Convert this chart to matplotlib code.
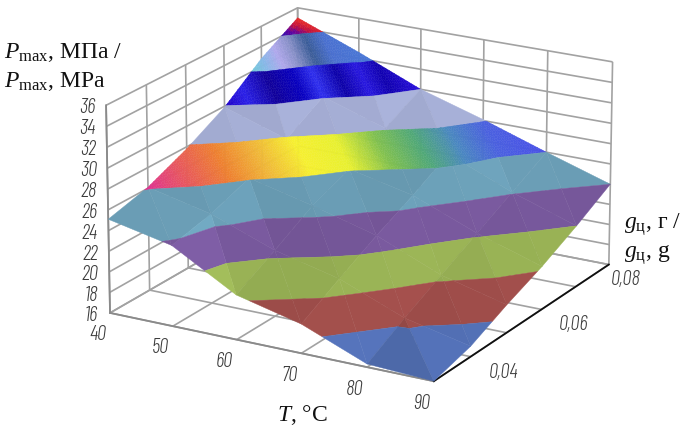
import numpy as np, matplotlib
matplotlib.use('Agg')
import matplotlib.pyplot as plt
from matplotlib.colors import LinearSegmentedColormap, to_rgb
from mpl_toolkits.mplot3d.art3d import Poly3DCollection

plt.rcParams.update({'mathtext.fontset':'custom','mathtext.rm':'Liberation Serif',
                     'mathtext.it':'Liberation Serif:italic','font.family':['Liberation Serif','DejaVu Serif']})

# data
temperature = [40, 50, 60, 70, 80, 90]
fuel_dose = [0.03, 0.04, 0.05, 0.06, 0.07, 0.08]
pressure = [
    [25.1, 26.1, 27.8, 29.9, 32.8, 35.0],
    [23.8, 24.7, 26.1, 27.9, 30.1, 32.6],
    [20.3, 22.4, 24.6, 26.1, 28.1, 30.0],
    [18.8, 20.9, 22.9, 24.7, 26.7, 28.1],
    [16.3, 18.4, 20.3, 22.2, 24.1, 26.0],
    [16.0, 17.0, 18.7, 20.2, 22.0, 24.0],
]
z_ticks = [16, 18, 20, 22, 24, 26, 28, 30, 32, 34, 36]
t_labels = ['40', '50', '60', '70', '80', '90']
g_labels = ['', '0,04', '', '0,06', '', '0,08']

flat_bands = {16: '#5472B8', 18: '#A04E4B', 20: '#97B054', 22: '#76579A', 24: '#6A9DB5', 28: '#A5AED5'}
rainbow = LinearSegmentedColormap.from_list('r', [(0, '#e0358f'), (.1, '#e85a5a'), (.2, '#ee8030'), (.3, '#f0b838'),
    (.4, '#f6f030'), (.5, '#e8f030'), (.6, '#80c050'), (.69, '#50a878'), (.78, '#4a88c0'), (.88, '#4a60e0'), (1, '#4a50e8')])
stripes = LinearSegmentedColormap.from_list('s', [(0, '#2000c8'), (.12, '#2a20e8'), (.26, '#10009a'), (.4, '#0800c0'),
    (.5, '#3030f0'), (.62, '#0c00a8'), (.73, '#2818e0'), (.84, '#1000b0'), (1, '#2a10e0')])
haze = LinearSegmentedColormap.from_list('h', [(0, '#70d0d8'), (.14, '#88b8e8'), (.27, '#b0a8ec'), (.4, '#8890c8'),
    (.54, '#3a5c98'), (.68, '#4a70d0'), (1, '#4878d8')])
crown = LinearSegmentedColormap.from_list('c', [(0, '#3010b0'), (.3, '#6000a0'), (.6, '#c01040'), (1, '#f03020')])

def stripe_pos(T, g):
    return (T - 40) / 10 + (g - .03) / .008

def colour(lo, T, g, z):
    s = stripe_pos(T, g)
    if lo == 26: return rainbow((s - 1.25) / 9.05)[:3]
    if lo == 30: return stripes((s - 3.75) / 4.5)[:3]
    if lo == 32: return haze((s - 4.6) / 2.95)[:3]
    if lo == 34: return crown(min(1, (z - 34) / 1.0 + (T - 40) / 5))[:3]
    return to_rgb(flat_bands[lo])

def clip(poly, lo, hi):
    for sign, lim in ((1, lo), (-1, hi)):
        out = []
        for a, b in zip(poly, poly[1:] + poly[:1]):
            da, db = sign * (a[2] - lim), sign * (b[2] - lim)
            if da >= 0: out.append(a)
            if da * db < 0:
                out.append(tuple(np.add(a, np.multiply(np.subtract(b, a), da / (da - db)))))
        poly = out
        if not poly: return []
    return poly

def subdivide(tri, n):
    a, b, c = map(np.array, tri)
    P = lambda i, j: tuple(a + (b - a) * i / n + (c - a) * j / n)
    res = []
    for i in range(n):
        for j in range(n - i):
            res.append([P(i, j), P(i + 1, j), P(i, j + 1)])
            if i + j < n - 1: res.append([P(i + 1, j), P(i + 1, j + 1), P(i, j + 1)])
    return res

polys, cols = [], []
Z = np.array(pressure)
for i in range(5):
    for j in range(5):
        v = lambda a, b: (temperature[a], fuel_dose[b], Z[a, b])
        for tri in ([v(i, j), v(i + 1, j), v(i, j + 1)], [v(i + 1, j), v(i + 1, j + 1), v(i, j + 1)]):
            p = np.array(tri)
            A = np.c_[(p[:, 0] - 65) / 10, (p[:, 1] - .055) / .01, np.ones(3)]
            zT, zg, _ = np.linalg.solve(A, p[:, 2])
            shade = np.clip(1 - .045 * (zT + 2) - .03 * (zg - 2), .86, 1.08)
            for lo in z_ticks[:-1]:
                hi = lo + 2
                if p[:, 2].max() <= lo or p[:, 2].min() >= hi: continue
                parts = [tri] if lo in flat_bands else subdivide(tri, 14)
                for part in parts:
                    q = clip(part, lo, hi)
                    if len(q) < 3: continue
                    c = np.mean(q, axis=0)
                    rgb = np.clip(np.array(colour(lo, c[0], c[1], c[2])) * (shade if lo in flat_bands else 1), 0, 1)
                    polys.append(q); cols.append(rgb)

fig = plt.figure(figsize=(6.85, 4.39), dpi=100)
ax = fig.add_axes([.1187, -.0686, .8003, 1.2487], projection='3d')
ax.patch.set_alpha(0)
ax.set_xlim(40, 90, view_margin=0); ax.set_ylim(.03, .08, view_margin=0); ax.set_zlim(16, 36, view_margin=0)
ax.view_init(19.46, -60.23)
ax.set_proj_type('persp', focal_length=1.6026)
ax.set_box_aspect((1.6905, 1.6969, 1.0))
ax.add_collection3d(Poly3DCollection(polys, facecolors=cols, edgecolors=cols, linewidths=.3))

tick_font = dict(family=['Barlow Condensed', 'Archivo Narrow', 'DejaVu Sans'], style='italic', weight=300,
                 fontsize=15, color='#3c3c3c', va='center')
ax.set_xticks(temperature, t_labels, **tick_font)
ax.set_yticks(fuel_dose, g_labels, **tick_font)
ax.set_zticks(z_ticks, [str(z) for z in z_ticks], **tick_font)
for lab, ha in zip(ax.get_yticklabels(), ['center', 'left', 'center', 'left', 'center', 'center']):
    lab.set_ha(ha)
for axis, col in ((ax.xaxis, '#8a8a8a'), (ax.yaxis, '#101010'), (ax.zaxis, '#8a8a8a')):
    axis.set_pane_color((1, 1, 1, 0))
    axis.pane.set_edgecolor((1, 1, 1, 0))
    axis.line.set_color(col)
    axis.line.set_linewidth(1.3)
    axis._axinfo['tick'].update(inward_factor=0, outward_factor=0)
    axis._axinfo['grid'].update(color='#a2a2a2', linewidth=1.2, linestyle='-')
ax.zaxis.set_ticks_position('lower')
ax.tick_params(axis='x', pad=5); ax.tick_params(axis='y', pad=3); ax.tick_params(axis='z', pad=-0.5)

txt = dict(fontsize=17, color='#111111', ha='left', va='baseline')
W, H = 685, 439
fig.text(4 / W, 1 - 58 / H, r'$P_{\mathrm{max}}$, МПа /', **txt)
fig.text(4 / W, 1 - 87 / H, r'$P_{\mathrm{max}}$, МРа', **txt)
fig.text(277 / W, 1 - 421 / H, r'$T$, °C', **txt)
fig.text(624 / W, 1 - 229 / H, r'$g_{\mathrm{ц}}$, г /', **txt)
fig.text(624 / W, 1 - 258 / H, r'$g_{\mathrm{ц}}$, g', **txt)
fig.savefig('out.png', dpi=100)
